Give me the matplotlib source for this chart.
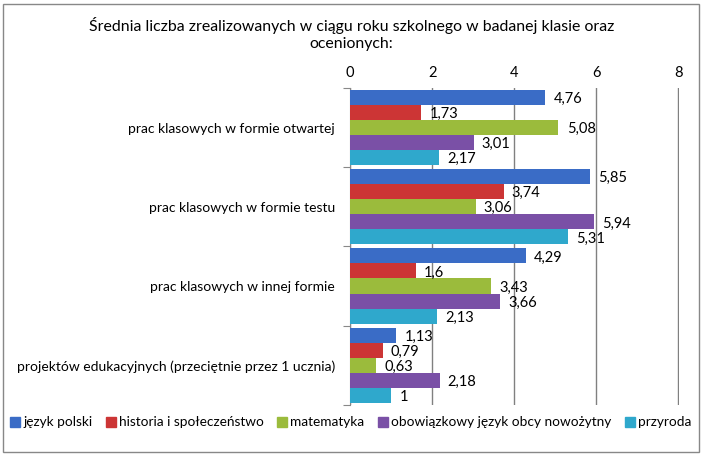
import matplotlib.pyplot as plt
from matplotlib.patches import Rectangle
from matplotlib.lines import Line2D

plt.rcParams['font.family'] = ['Lato', 'DejaVu Sans']

# data
categories = [
    "prac klasowych w formie otwartej",
    "prac klasowych w formie testu",
    "prac klasowych w innej formie",
    "projektów edukacyjnych (przeciętnie przez 1 ucznia)",
]
series = [
    "język polski",
    "historia i społeczeństwo",
    "matematyka",
    "obowiązkowy język obcy nowożytny",
    "przyroda",
]
values = [
    [4.76, 5.85, 4.29, 1.13],   # język polski
    [1.73, 3.74, 1.6, 0.79],    # historia i społeczeństwo
    [5.08, 3.06, 3.43, 0.63],   # matematyka
    [3.01, 5.94, 3.66, 2.18],   # obowiązkowy język obcy
    [2.17, 5.31, 2.13, 1.0],    # przyroda
]
colors = ["#3a6cc6", "#cc3535", "#9bbb3c", "#7a50a6", "#2fa8cc"]
xticks = [0, 2, 4, 6, 8]

fig = plt.figure(figsize=(7.03, 4.58), dpi=100)
fig.patches.append(Rectangle((0.004, 0.013), 0.99, 0.978, transform=fig.transFigure,
                             fill=False, edgecolor="#888888", lw=1))

ax = fig.add_axes([0.498, 0.116, 0.468, 0.692])

bar_h = 0.19
for j, (name, vals, c) in enumerate(zip(series, values, colors)):
    ys = [i + (j - 2) * bar_h for i in range(len(categories))]
    ax.barh(ys, vals, height=bar_h, color=c, zorder=3)
    for y, v in zip(ys, vals):
        ax.text(v + 0.2, y + 0.02, f"{v:g}".replace(".", ","), va="center", ha="left",
                fontsize=10.5, zorder=4)

ax.set_xlim(0, 8.02)
ax.set_ylim(3.5, -0.5)
ax.xaxis.tick_top()
ax.set_xticks(xticks)
ax.set_xticklabels([str(t) for t in xticks], fontsize=10.5)
ax.tick_params(axis="x", length=0, pad=6)
ax.grid(axis="x", color="#808080", lw=1, zorder=1)

ax.set_yticks([-0.5, 0.5, 1.5, 2.5, 3.5])
ax.set_yticklabels([])
ax.set_yticks(range(len(categories)), minor=True)
ax.set_yticklabels(categories, minor=True, fontsize=10)
ax.tick_params(axis="y", which="major", length=5, color="#888888")
ax.tick_params(axis="y", which="minor", length=0, pad=11)

for s in ["top", "right", "bottom"]:
    ax.spines[s].set_visible(False)
ax.spines["left"].set_color("#888888")

fig.text(0.5, 0.925, "Średnia liczba zrealizowanych w ciągu roku szkolnego w badanej klasie oraz\nocenionych:",
         ha="center", va="center", fontsize=11.4, linespacing=1.3)

handles = [Line2D([], [], marker="s", ls="", color=c, markersize=6.5) for c in colors]
fig.legend(handles, series, loc="center", bbox_to_anchor=(0.5, 0.078), ncol=5, frameon=False,
           fontsize=9.8, handlelength=0.5, handletextpad=0.35, columnspacing=1.1,
           borderpad=0, borderaxespad=0)

plt.savefig("out.png", dpi=100)
